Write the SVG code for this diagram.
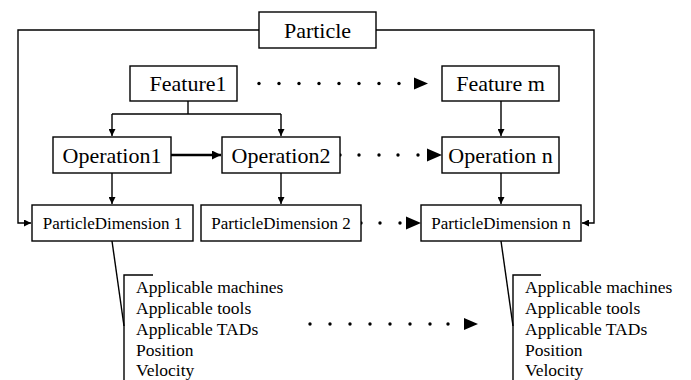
<svg xmlns="http://www.w3.org/2000/svg" width="691" height="380" viewBox="0 0 691 380" font-family="'Liberation Serif', 'DejaVu Serif', serif">
  <style>
    .box { fill: #fff; stroke: #000; stroke-width: 1.4; }
    text { font-family: 'Liberation Serif', 'DejaVu Serif', serif; fill: #000; }
    .lbl { text-anchor: middle; }
    .big { font-size: 22px; }
    .mid { font-size: 17px; }
    .item { font-size: 17.5px; }
    .wire { fill: none; stroke: #000; stroke-width: 1.4; }
    .thick { fill: none; stroke: #000; stroke-width: 2.6; }
    .dot { fill: #000; }
  </style>
  <defs>
    <marker id="tip" viewBox="0 0 10 10" refX="10" refY="5" markerWidth="7" markerHeight="7" markerUnits="userSpaceOnUse" orient="auto">
      <path d="M0,0 L10,5 L0,10 Z" fill="#000"/>
    </marker>
    <marker id="tipBold" viewBox="0 0 10 10" refX="10" refY="5" markerWidth="9" markerHeight="9" markerUnits="userSpaceOnUse" orient="auto">
      <path d="M0,0 L10,5 L0,10 Z" fill="#000"/>
    </marker>
  </defs>

  <!-- connectors -->
  <g id="connectors">
    <!-- Particle to the outer dimensions -->
    <path class="wire" d="M259,30 H18 V223 H31" marker-end="url(#tip)"/>
    <path class="wire" d="M376,30 H594 V223 H582" marker-end="url(#tip)"/>
    <!-- Feature1 to its operations -->
    <path class="wire" d="M188,101 V114"/>
    <path class="wire" d="M112,114 H281"/>
    <path class="wire" d="M112,114 V136" marker-end="url(#tip)"/>
    <path class="wire" d="M281,114 V136" marker-end="url(#tip)"/>
    <!-- Feature m to Operation n -->
    <path class="wire" d="M501,101 V136" marker-end="url(#tip)"/>
    <!-- Operation1 to Operation2 -->
    <path class="thick" d="M171,155 H221" marker-end="url(#tipBold)"/>
    <!-- operations to dimensions -->
    <path class="wire" d="M112,173 V204" marker-end="url(#tip)"/>
    <path class="wire" d="M281,173 V204" marker-end="url(#tip)"/>
    <path class="wire" d="M501,173 V204" marker-end="url(#tip)"/>
    <!-- callout brackets -->
    <path class="wire" d="M112,241 L124,326"/>
    <path class="wire" d="M153,275 H124 V380"/>
    <path class="wire" d="M501,241 L513,326"/>
    <path class="wire" d="M541,275 H513 V380"/>

    <!-- dotted sequences -->
    <g class="dot">
      <!-- Feature1 ... Feature m -->
      <circle cx="259" cy="83.5" r="1.7"/>
      <circle cx="279" cy="83.5" r="1.7"/>
      <circle cx="299" cy="83.5" r="1.7"/>
      <circle cx="319" cy="83.5" r="1.7"/>
      <circle cx="339" cy="83.5" r="1.7"/>
      <circle cx="359" cy="83.5" r="1.7"/>
      <circle cx="379" cy="83.5" r="1.7"/>
      <circle cx="399" cy="83.5" r="1.7"/>
      <path d="M414,77.5 L428,83.5 L414,89.5 Z"/>
      <!-- Operation2 ... Operation n -->
      <circle cx="340" cy="155" r="1.7"/>
      <circle cx="359" cy="155" r="1.7"/>
      <circle cx="379" cy="155" r="1.7"/>
      <circle cx="398" cy="155" r="1.7"/>
      <circle cx="418" cy="155" r="1.7"/>
      <path d="M427,148.5 L442,155 L427,161.5 Z"/>
      <!-- ParticleDimension 2 ... ParticleDimension n -->
      <circle cx="361" cy="223" r="1.7"/>
      <circle cx="380" cy="223" r="1.7"/>
      <circle cx="400" cy="223" r="1.7"/>
      <path d="M406,216.5 L421,223 L406,229.5 Z"/>
      <!-- attribute lists -->
      <circle cx="310" cy="324" r="1.7"/>
      <circle cx="330" cy="324" r="1.7"/>
      <circle cx="350" cy="324" r="1.7"/>
      <circle cx="370" cy="324" r="1.7"/>
      <circle cx="390" cy="324" r="1.7"/>
      <circle cx="410" cy="324" r="1.7"/>
      <circle cx="430" cy="324" r="1.7"/>
      <circle cx="448" cy="324" r="1.7"/>
      <path d="M464,318 L478,324 L464,330 Z"/>
    </g>
  </g>

  <!-- nodes -->
  <g id="particle">
    <rect class="box" x="259" y="12" width="117" height="36"/>
    <text class="lbl big" x="317.5" y="37.5">Particle</text>
  </g>
  <g id="feature1">
    <rect class="box" x="130" y="66" width="107" height="35"/>
    <text class="lbl big" x="188" y="91">Feature1</text>
  </g>
  <g id="featureM">
    <rect class="box" x="442" y="66" width="117" height="35"/>
    <text class="lbl big" x="500.5" y="91">Feature m</text>
  </g>
  <g id="operation1">
    <rect class="box" x="53" y="137" width="118" height="36"/>
    <text class="lbl big" x="112" y="162.5">Operation1</text>
  </g>
  <g id="operation2">
    <rect class="box" x="222" y="137" width="118" height="36"/>
    <text class="lbl big" x="281" y="162.5">Operation2</text>
  </g>
  <g id="operationN">
    <rect class="box" x="442" y="137" width="117" height="36"/>
    <text class="lbl big" x="500.5" y="162.5">Operation n</text>
  </g>
  <g id="dimension1">
    <rect class="box" x="32" y="205" width="161" height="36"/>
    <text class="lbl mid" x="112.5" y="229">ParticleDimension 1</text>
  </g>
  <g id="dimension2">
    <rect class="box" x="201" y="205" width="160" height="36"/>
    <text class="lbl mid" x="281" y="229">ParticleDimension 2</text>
  </g>
  <g id="dimensionN">
    <rect class="box" x="421" y="205" width="160" height="36"/>
    <text class="lbl mid" x="501" y="229">ParticleDimension n</text>
  </g>

  <!-- attribute lists -->
  <g id="attributes1">
    <text class="item" x="136" y="293">Applicable machines</text>
    <text class="item" x="136" y="314">Applicable tools</text>
    <text class="item" x="136" y="335">Applicable TADs</text>
    <text class="item" x="136" y="356">Position</text>
    <text class="item" x="136" y="376">Velocity</text>
  </g>
  <g id="attributesN">
    <text class="item" x="525" y="293">Applicable machines</text>
    <text class="item" x="525" y="314">Applicable tools</text>
    <text class="item" x="525" y="335">Applicable TADs</text>
    <text class="item" x="525" y="356">Position</text>
    <text class="item" x="525" y="376">Velocity</text>
  </g>
</svg>
